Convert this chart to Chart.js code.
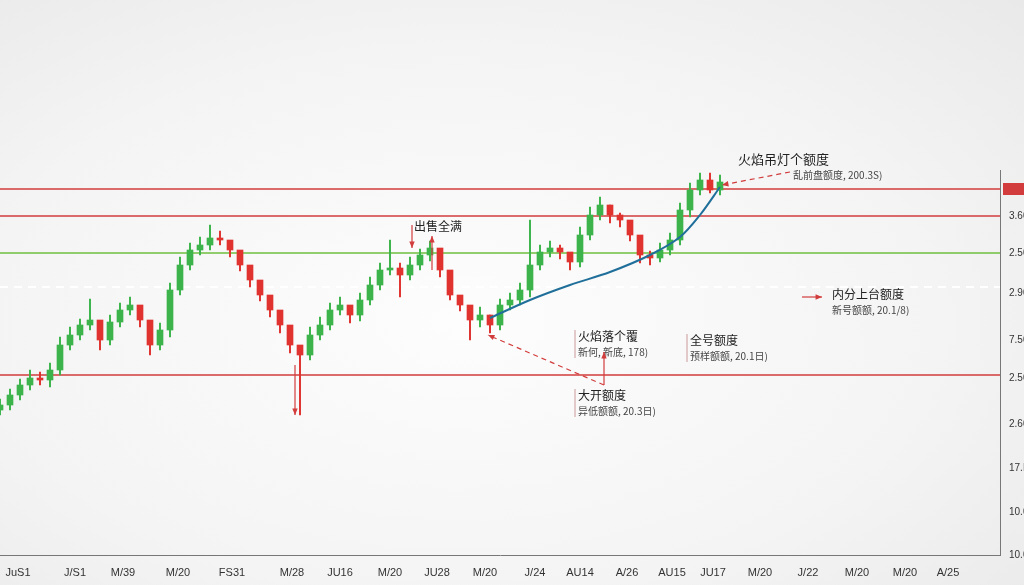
<!DOCTYPE html>
<html><head><meta charset="utf-8">
<script src="https://cdn.jsdelivr.net/npm/chart.js@4"></script>
<style>
html,body{margin:0;padding:0;width:1024px;height:585px;overflow:hidden;
background:radial-gradient(ellipse at 45% 55%,#fdfdfd 0%,#f4f4f4 60%,#e9e9e9 100%);}
canvas{display:block}
</style></head><body>
<canvas id="c" width="1024" height="585"></canvas>
<script>
const opens  = [145,150,160,170,177,175,185,210,220,230,235,215,233,245,250,235,210,225,265,290,305,310,317,315,305,290,275,260,245,230,210,200,220,230,245,250,240,255,270,285,287,280,290,300,307,285,260,250,235,240,230,250,255,265,290,303,307,303,293,320,340,350,340,335,320,300,297,305,315,345,365,375,365];
const closes = [150,160,170,177,175,185,210,220,230,235,215,233,245,250,235,210,225,265,290,305,310,317,315,305,290,275,260,245,230,210,200,220,230,245,250,240,255,270,285,287,280,290,300,307,285,260,250,235,240,230,250,255,265,290,303,307,303,293,320,340,350,340,335,320,300,297,305,315,345,365,375,365,373];
const highs  = [156,166,176,185,183,192,218,228,236,256,224,240,252,258,242,222,232,272,298,312,318,330,324,312,298,282,268,252,238,222,208,228,238,252,258,248,262,278,292,315,292,298,306,314,296,270,258,244,248,240,256,262,272,335,310,314,310,300,328,348,358,350,342,330,310,304,312,322,352,372,382,382,380];
const lows   = [140,145,155,165,170,168,180,205,215,225,205,210,228,240,228,200,205,218,260,285,300,305,310,298,284,268,254,238,222,202,140,195,215,225,240,232,234,250,265,280,258,275,285,294,278,255,244,215,228,222,225,245,250,258,285,298,296,285,288,315,335,332,328,314,292,290,293,300,310,338,360,362,360];
const trendX = [49,53,57,61,65,68,70,72];
const trendY = [237,255,270,283,300,318,340,368];
const levels = [{v:366,c:'#d23c3c'},{v:339,c:'#d23c3c'},{v:302,c:'#6fbf3f'},{v:180,c:'#d23c3c'}];
const yTickVals = [365,339,302,262,215,177,131,87,43,0];
const yTickLabels = ['tEc','3.60','2.50','2.90','7.50','2.50','2.60','17.M','10.0','10.0'];
const xTickVals = [1.8,7.5,12.3,17.8,23.2,29.2,34,39,43.7,48.5,53.5,58,62.7,67.2,71.3,76,80.8,85.7,90.5,94.8];
const xTickLabels = ['JuS1','J/S1','M/39','M/20','FS31','M/28','JU16','M/20','JU28','M/20','J/24','AU14','A/26','AU15','JU17','M/20','J/22','M/20','M/20','A/25'];
const notes = [
 {t:'火焰吊灯个额度',s:'乱前盘额度, 200.3S)',x:738,y:153,b:true},
 {t:'内分上台额度',s:'新号额额, 20.1/8)',x:832,y:288},
 {t:'火焰落个覆',s:'新何, 新底, 178)',x:578,y:330,br:true},
 {t:'全号额度',s:'预样额额, 20.1日)',x:690,y:334,br:true},
 {t:'大开额度',s:'异低额额, 20.3日)',x:578,y:389,br:true},
 {t:'出售全满',s:'',x:414,y:220}
];
const green='#3cb44b', red='#e0322f';
const idx = opens.map((_,i)=>i);
const col = idx.map(i=>closes[i]>=opens[i]?green:red);
const deco = {id:'deco',
 beforeDatasetsDraw(ch){
  const {ctx,chartArea:a,scales:{y}}=ch;
  ctx.save();
  levels.forEach(l=>{const p=y.getPixelForValue(l.v);ctx.strokeStyle=l.c;ctx.lineWidth=1.5;ctx.beginPath();ctx.moveTo(0,p);ctx.lineTo(a.right,p);ctx.stroke();});
  const p=y.getPixelForValue(268);ctx.strokeStyle='#ffffff';ctx.lineWidth=2;ctx.setLineDash([8,6]);
  ctx.beginPath();ctx.moveTo(0,p);ctx.lineTo(a.right,p);ctx.stroke();ctx.setLineDash([]);
  ctx.fillStyle='#d23c3c';ctx.fillRect(a.right+3,y.getPixelForValue(372),22,12);
  ctx.restore();
 },
 afterDraw(ch){
  const {ctx}=ch;ctx.save();
  notes.forEach(n=>{
   ctx.fillStyle='#222';ctx.font=(n.b?'13px':'12px')+' "Noto Sans CJK SC"';ctx.textBaseline='top';
   ctx.fillText(n.t,n.x,n.y);
   if(n.s){ctx.fillStyle='#444';ctx.font='10px "Noto Sans CJK SC"';ctx.fillText(n.s,n.x+(n.b?55:0),n.y+17);}
   if(n.br){ctx.strokeStyle='#c99';ctx.lineWidth=1;ctx.beginPath();ctx.moveTo(n.x-3,n.y);ctx.lineTo(n.x-3,n.y+28);ctx.stroke();}
  });
  ctx.strokeStyle='#d23c3c';ctx.fillStyle='#d23c3c';ctx.lineWidth=1.2;
  const arrow=(x1,y1,x2,y2,dash)=>{ctx.setLineDash(dash?[5,4]:[]);ctx.beginPath();ctx.moveTo(x1,y1);ctx.lineTo(x2,y2);ctx.stroke();ctx.setLineDash([]);
   const a=Math.atan2(y2-y1,x2-x1);ctx.beginPath();ctx.moveTo(x2,y2);ctx.lineTo(x2-7*Math.cos(a-0.4),y2-7*Math.sin(a-0.4));ctx.lineTo(x2-7*Math.cos(a+0.4),y2-7*Math.sin(a+0.4));ctx.fill();};
  arrow(790,172,722,185,true);arrow(802,297,822,297);arrow(604,385,604,352);arrow(604,385,488,335,true);
  arrow(295,365,295,415);arrow(432,270,432,236);arrow(412,225,412,248);
  ctx.restore();
 }};
new Chart(document.getElementById('c'),{
 data:{labels:idx,datasets:[
  {type:'bar',data:idx.map(i=>({x:i,y:[lows[i],highs[i]]})),backgroundColor:col,barThickness:1.3,grouped:false,order:3},
  {type:'bar',data:idx.map(i=>({x:i,y:[opens[i],closes[i]]})),backgroundColor:col,barThickness:6,grouped:false,minBarLength:2,order:2},
  {type:'line',data:trendX.map((x,i)=>({x,y:trendY[i]})),borderColor:'#1f6f9a',borderWidth:2,pointRadius:0,tension:0.3,order:1}
 ]},
 options:{responsive:false,animation:false,layout:{padding:{top:170,left:0}},
  plugins:{legend:{display:false},tooltip:{enabled:false}},
  scales:{
   x:{type:'linear',min:0,max:100,offset:false,grid:{display:false},border:{color:'#777'},
    afterBuildTicks:s=>{s.ticks=xTickVals.map(v=>({value:v}));},
    afterFit:s=>{s.height=30;},
    ticks:{autoSkip:false,maxRotation:0,color:'#333',font:{size:11,family:'Liberation Sans'},callback:(v,i)=>xTickLabels[i]}},
   y:{position:'right',min:0,max:385,grid:{display:false},border:{color:'#777'},
    afterBuildTicks:s=>{s.ticks=yTickVals.map(v=>({value:v}));},
    afterFit:s=>{s.width=24;},
    ticks:{autoSkip:false,padding:1,color:(c)=>c.index===0?'#fff':'#333',font:{size:10,family:'Liberation Sans'},callback:(v,i)=>yTickLabels[i]}}
  }}
,plugins:[deco]});
</script></body></html>
